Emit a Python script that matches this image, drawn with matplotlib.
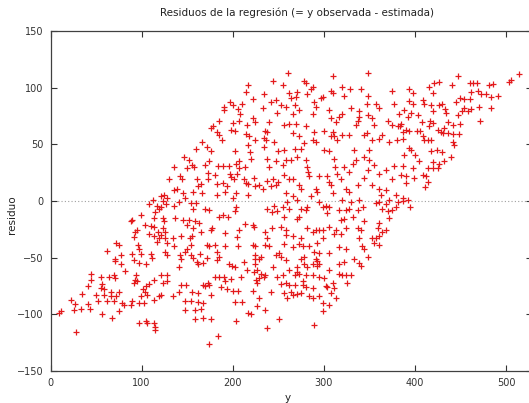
import matplotlib
matplotlib.use("Agg")
import matplotlib.pyplot as plt
import numpy as np

# (y, residuo) pairs, grouped by region of the plot
zona_izq_baja = [
    (112, 1), (108, -3), (117, -4), (119, -7), (115, -10), (114, -15), (99, -12), (88, -18), (89, -17),
    (104, -21), (110, -22), (114, -23), (108, -29), (114, -31), (118, -27), (93, -27), (92, -32), (95, -26),
    (117, -36), (119, -33), (72, -37), (75, -39), (62, -44), (77, -48), (96, -39), (97, -42), (99, -47),
    (89, -47), (92, -52), (71, -51), (71, -53), (77, -56), (97, -55), (105, -56), (110, -47), (111, -50),
    (82, -62), (44, -64), (55, -67), (45, -70), (64, -67), (70, -65), (71, -68), (94, -65), (93, -70),
    (92, -72), (95, -71), (114, -70), (108, -73), (105, -75), (56, -73), (55, -77), (41, -75), (35, -82),
    (50, -83), (59, -78), (59, -83), (66, -80), (66, -84), (72, -84), (70, -88), (52, -88), (62, -88),
    (75, -80), (101, -78), (104, -80), (106, -83), (99, -84), (114, -87), (119, -84), (97, -90), (103, -90),
    (90, -88), (88, -92), (81, -92), (79, -90), (23, -87), (27, -91), (26, -96), (33, -95), (41, -91),
    (43, -95), (9, -99), (12, -97), (57, -100), (68, -103), (75, -97), (97, -108), (105, -106), (106, -108),
    (114, -108), (115, -111), (115, -114), (28, -116), (121, 4),
]

zona_centro_alta = [
    (244, 106), (217, 102), (215, 96), (234, 94), (222, 90), (247, 89), (242, 87), (197, 87), (190, 83),
    (200, 85), (210, 86), (206, 81), (190, 80), (208, 77), (233, 82), (249, 78), (222, 73), (224, 70),
    (216, 67), (240, 70), (207, 71), (185, 71), (178, 66), (176, 64), (200, 69), (198, 63), (202, 62),
    (183, 61), (185, 58), (188, 54), (215, 59), (218, 57), (224, 54), (236, 62), (238, 61), (234, 56),
    (237, 54), (245, 52), (166, 52), (172, 48), (160, 46), (176, 44), (202, 44), (217, 49), (219, 43),
    (234, 48), (250, 44), (147, 39), (152, 36), (155, 32), (158, 30), (150, 29), (136, 30), (174, 35),
    (170, 32), (184, 31), (189, 31), (196, 31), (204, 33), (207, 35), (214, 30), (220, 37), (238, 37),
    (247, 35), (240, 30), (173, 25), (181, 23), (197, 24), (198, 21), (207, 29), (205, 24), (130, 19),
    (142, 22), (144, 19), (139, 11), (136, 10), (145, 7), (161, 19), (165, 15), (162, 13), (173, 19),
    (183, 15), (189, 16), (194, 13), (201, 19), (212, 19), (215, 16), (217, 15), (223, 20), (225, 13),
    (229, 14), (238, 18), (244, 19), (250, 17), (166, 7), (156, 8), (148, 3), (125, 5), (128, 3),
    (183, 5), (192, 8), (200, 3), (204, 7), (217, 5), (233, 11), (242, 13), (247, 14),
]

zona_derecha_alta = [
    (261, 113), (348, 113), (310, 110), (255, 102), (278, 106), (280, 104), (262, 95), (271, 96), (270, 92),
    (264, 91), (282, 94), (286, 99), (288, 101), (297, 91), (299, 92), (308, 97), (310, 95), (320, 101),
    (329, 99), (341, 99), (322, 93), (349, 93), (347, 86), (357, 86), (361, 82), (375, 97), (377, 86),
    (383, 77), (253, 85), (258, 83), (268, 85), (273, 80), (266, 77), (262, 68), (269, 68), (256, 67),
    (289, 87), (291, 83), (288, 77), (306, 80), (308, 73), (313, 70), (317, 74), (320, 77), (330, 82),
    (339, 79), (348, 76), (353, 73), (355, 67), (370, 71), (375, 67), (381, 66), (337, 71), (335, 67),
    (339, 74), (280, 66), (289, 61), (291, 52), (288, 54), (300, 62), (308, 57), (311, 57), (315, 54),
    (328, 58), (320, 58), (310, 61), (344, 58), (347, 60), (353, 54), (361, 55), (364, 58), (372, 52),
    (380, 54), (266, 60), (273, 57), (278, 51), (256, 45), (268, 46), (275, 46), (264, 36), (258, 36),
    (255, 32), (271, 39), (280, 36), (282, 30), (283, 26), (300, 45), (306, 44), (311, 37), (312, 30),
    (314, 24), (322, 30), (332, 33), (335, 36), (328, 26), (344, 39), (350, 36), (348, 27), (355, 32),
    (361, 24), (368, 27), (377, 31), (333, 45), (350, 45), (256, 23), (262, 19), (266, 19), (273, 14),
    (275, 11), (284, 22), (295, 22), (291, 11), (293, 8), (304, 22), (306, 17), (308, 14), (310, 7),
    (319, 19), (324, 11), (328, 8), (337, 14), (344, 20), (353, 14), (361, 11), (368, 10), (375, 19),
    (379, 5), (363, 5), (286, 4), (258, 7), (266, 4),
]

zona_extremo = [
    (514, 112), (505, 107), (503, 105), (447, 110), (427, 105), (421, 104), (415, 101), (441, 102), (460, 104),
    (464, 104), (468, 104), (481, 102), (486, 103), (394, 99), (398, 95), (420, 95), (462, 96), (469, 97),
    (478, 94), (473, 94), (484, 92), (491, 93), (449, 91), (454, 90), (445, 87), (460, 90), (393, 88),
    (398, 86), (409, 89), (410, 86), (418, 85), (427, 85), (430, 86), (433, 81), (470, 83), (484, 82),
    (454, 82), (452, 79), (458, 79), (462, 81), (388, 80), (396, 78), (403, 76), (392, 74), (420, 79),
    (434, 78), (447, 76), (471, 71), (385, 68), (384, 66), (408, 70), (417, 71), (420, 69), (436, 70),
    (442, 67), (449, 68), (416, 66), (390, 63), (394, 62), (387, 61), (402, 62), (406, 62), (425, 63),
    (429, 61), (432, 64), (431, 60), (436, 60), (442, 59), (448, 59), (387, 55), (409, 57), (410, 54),
    (414, 54), (418, 54), (442, 52), (443, 49), (393, 47), (396, 45), (388, 41), (400, 41), (418, 44),
    (424, 45), (430, 43), (405, 35), (420, 34), (426, 33), (432, 35), (440, 39), (387, 31), (398, 29),
    (414, 29), (420, 29), (425, 29), (385, 23), (390, 22), (399, 20), (409, 23), (412, 22), (414, 17),
    (390, 16), (411, 12), (387, 3), (387, 0), (392, 1), (395, -5),
]

zona_centro_baja = [
    (123, 0), (127, -3), (121, -5), (136, -4), (141, -1), (154, -2), (156, -7), (160, -2), (170, -7),
    (174, -8), (185, -14), (189, -12), (195, -14), (204, -5), (203, -9), (238, -7), (245, -4), (249, -9),
    (243, -10), (123, -15), (125, -18), (137, -15), (145, -17), (150, -21), (152, -17), (159, -18), (163, -19),
    (156, -24), (165, -27), (176, -26), (177, -24), (192, -28), (207, -26), (205, -32), (214, -20), (222, -21),
    (223, -23), (236, -27), (238, -33), (243, -24), (124, -24), (126, -27), (121, -30), (136, -40), (128, -37),
    (126, -33), (134, -33), (143, -31), (153, -33), (154, -39), (155, -31), (150, -42), (148, -45), (172, -39),
    (174, -40), (181, -39), (183, -45), (192, -40), (206, -40), (222, -39), (225, -40), (236, -39), (240, -40),
    (225, -48), (231, -49), (224, -51), (229, -51), (126, -45), (128, -48), (142, -48), (143, -51), (154, -48),
    (156, -50), (164, -47), (167, -55), (161, -54), (162, -56), (172, -50), (183, -52), (185, -49), (196, -56),
    (199, -57), (202, -58), (212, -54), (225, -56), (216, -61), (223, -63), (227, -61), (231, -64), (236, -65),
    (234, -67), (244, -58), (247, -48), (249, -67), (121, -65), (128, -65), (123, -72), (128, -71), (141, -58),
    (143, -74), (149, -74), (167, -74), (173, -72), (174, -74), (170, -75), (181, -67), (185, -67), (190, -67),
    (192, -71), (198, -69), (209, -67), (226, -70), (227, -72), (229, -68), (121, -83), (134, -84), (141, -80),
    (155, -80), (162, -81), (176, -83), (187, -76), (194, -78), (200, -79), (206, -79), (203, -89), (210, -89),
    (222, -79), (229, -86), (227, -93), (236, -96), (242, -80), (148, -88), (154, -88), (162, -89), (167, -90),
    (165, -95), (148, -96), (159, -96), (159, -104), (167, -103), (176, -104), (204, -106), (217, -99),
    (220, -100), (238, -112), (251, -104), (184, -119), (174, -126),
]

zona_derecha_baja = [
    (260, -1), (271, 1), (295, -1), (302, -4), (320, 1), (330, -1), (339, 1), (361, -1), (357, -2),
    (368, -3), (372, 1), (381, -1), (379, -5), (255, -5), (262, -7), (275, -7), (280, -8), (282, -5),
    (299, -5), (306, -5), (304, -11), (317, -8), (324, -8), (328, -7), (337, -8), (343, -5), (364, -7),
    (370, -9), (375, -8), (256, -14), (271, -16), (273, -14), (319, -17), (322, -16), (332, -14), (344, -18),
    (361, -19), (372, -15), (360, -24), (364, -27), (368, -26), (253, -23), (259, -26), (258, -30), (266, -31),
    (275, -33), (282, -24), (288, -27), (291, -26), (295, -26), (299, -26), (306, -23), (313, -26), (311, -29),
    (319, -29), (324, -24), (337, -24), (341, -26), (339, -33), (353, -33), (355, -37), (357, -33), (361, -31),
    (361, -39), (256, -38), (266, -41), (273, -38), (277, -40), (284, -40), (289, -45), (295, -46), (293, -37),
    (299, -33), (317, -41), (324, -42), (342, -40), (344, -42), (348, -49), (333, -51), (339, -55), (341, -57),
    (251, -46), (253, -49), (258, -52), (275, -51), (278, -49), (291, -51), (293, -53), (295, -56), (292, -57),
    (306, -46), (317, -56), (322, -54), (288, -56), (282, -58), (278, -56), (271, -58), (262, -61), (268, -65),
    (271, -63), (273, -64), (281, -65), (288, -65), (295, -67), (300, -68), (306, -61), (317, -64), (320, -65),
    (324, -65), (330, -65), (326, -72), (310, -72), (311, -77), (302, -75), (304, -76), (255, -65), (258, -72),
    (253, -73), (262, -74), (268, -74), (277, -71), (277, -74), (280, -76), (288, -77), (256, -81), (264, -80),
    (266, -83), (271, -82), (275, -81), (284, -84), (288, -86), (295, -84), (308, -81), (313, -86), (299, -90),
    (306, -92), (299, -97), (289, -109), (260, -86),
]

titulo = "Residuos de la regresión (= y observada - estimada)"
etiqueta_x = "y"
etiqueta_y = "residuo"
xticks = [0, 100, 200, 300, 400, 500]
yticks = [-150, -100, -50, 0, 50, 100, 150]

puntos = np.array(zona_izq_baja + zona_centro_alta + zona_derecha_alta
                  + zona_extremo + zona_centro_baja + zona_derecha_baja, dtype=float)

fig = plt.figure(figsize=(5.29, 4.03), dpi=100)
# the right border of the original frame falls just outside the picture
ax = fig.add_axes([50.5 / 529, 32 / 403, 481 / 529, 340 / 403])

ax.axhline(0, color="#a0a0a0", linestyle=(0, (1, 2)), linewidth=0.8, zorder=1)
ax.plot(puntos[:, 0], puntos[:, 1], linestyle="none", marker="+", markersize=5,
        markeredgewidth=0.9, color="#e31a1c", zorder=2)

ax.set_xlim(0, 528)
ax.set_ylim(-150, 150)
ax.set_xticks(xticks)
ax.set_yticks(yticks)
ax.tick_params(direction="in", length=4, width=0.8, top=True, right=True,
               labelsize=7, colors="#333333", pad=5)
for s in ax.spines.values():
    s.set_color("#404040")
    s.set_linewidth(0.9)

fig.text(297 / 529, 1 - 13 / 403, titulo, ha="center", va="center", fontsize=7.5, color="#222222")
fig.text(288 / 529, 1 - 398 / 403, etiqueta_x, ha="center", va="center", fontsize=7.5, color="#222222")
fig.text(12 / 529, 1 - 215 / 403, etiqueta_y, ha="center", va="center", rotation=90,
         fontsize=7.5, color="#222222")

fig.savefig("out.png", dpi=100)
